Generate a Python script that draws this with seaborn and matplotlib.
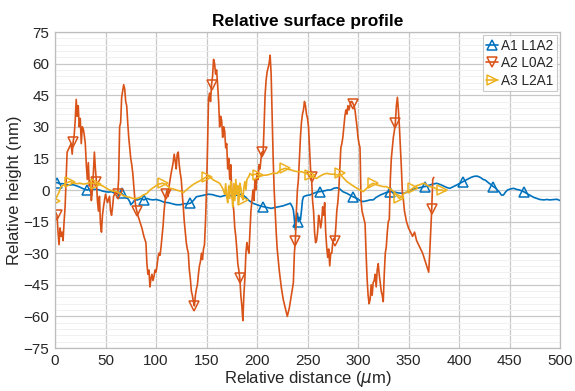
import numpy as np
import pandas as pd
import matplotlib
matplotlib.use("Agg")
import matplotlib.pyplot as plt
import seaborn as sns

# ---------------- data ----------------
a2_x = [0,2,3,4,5,6,7,8,9,10,11,12,14,16,17,18,19,20,21,22,23,24,25,26,27,28,29,30,31,32,33,34,35,36,37,38,39,40,41,42,43,44,45,46,47,48,49,50,52,54,55,56,57,58,60,62,63,64,65,66,67,68,69,70,71,72,73,74,75,76,77,78,79,80,81,82,84,86,88,90,91,92,93,94,95,96,97,98,99,100,101,102,103,104,105,106,107,108,109,110,111,112,113,115,117,118,119,120,121,122,123,124,125,126,127,128,129,130,131,132,133,134,135,136,137,138,139,140,141,142,143,144,145,146,147,148,149,150,151,152,153,154,155,156,157,158,159,160,161,162,163,164,165,166,167,168,169,170,171,172,173,174,175,176,177,178,179,180,181,182,183,184,185,186,187,188,189,190,191,192,193,194,195,196,197,198,199,200,201,202,203,204,205,206,207,208,209,210,211,212,213,214,215,216,217,218,219,220,222,224,226,228,230,232,234,236,237,238,239,240,241,242,243,244,245,246,247,248,249,250,251,252,253,254,255,256,257,258,259,260,261,262,263,264,265,266,267,268,269,270,271,272,273,274,275,276,277,278,279,280,281,282,283,284,285,286,287,288,289,290,291,292,293,294,295,296,297,298,299,300,301,302,303,304,305,306,307,308,309,310,311,312,313,314,315,316,317,318,319,320,321,322,323,324,325,326,327,328,329,330,331,332,333,334,335,336,337,338,339,340,341,342,343,344,345,346,348,350,352,354,356,358,360,362,364,366,368,370,371,372,373,374,375]
a2_y = [-10,-12,-20,-26,-18,-22,-20,-24,-15,-8,5,18,20,22,17,23,26,33,43,35,40,30,34,22,30,29,26,22,12,5,13,2,4,-5,0,8,18,10,4,-5,-10,-3,-16,-20,-12,-8,-5,-2,-6,-3,-10,-12,-8,-3,-1,-2,5,30,32,44,47,50,48,42,40,32,25,20,15,12,8,2,-4,-8,-10,-12,-15,-18,-22,-25,-35,-40,-38,-46,-42,-40,-43,-41,-38,-39,-36,-32,-30,-31,-27,-22,-17,-10,-5,-2,0,-3,2,8,13,17,14,10,17,18,12,8,5,-2,-8,-15,-20,-25,-28,-30,-38,-42,-48,-50,-53,-55,-50,-47,-45,-40,-36,-34,-30,-33,-28,-26,-15,0,20,43,46,42,50,54,62,60,55,57,50,42,30,35,33,25,30,28,20,22,10,15,5,12,0,-5,-10,-18,-22,-28,-35,-38,-42,-50,-55,-62,-50,-42,-30,-25,-28,-30,-20,-10,-5,0,-5,5,0,8,5,12,10,15,18,17,30,45,52,56,58,60,64,55,35,15,0,-10,-20,-28,-38,-46,-52,-56,-60,-56,-50,-44,-30,-24,-10,0,5,15,25,32,36,38,42,40,36,34,30,20,10,6,-5,-10,-20,-25,-24,-20,-12,-14,-18,-15,-8,-12,-6,-20,-27,-32,-28,-36,-30,-30,-25,-23,-24,-18,-10,-6,0,10,20,22,25,30,35,38,36,40,38,40,42,42,41,40,38,34,30,25,22,20,-5,-10,-12,-14,-16,-30,-42,-50,-54,-52,-45,-50,-44,-43,-40,-46,-38,-35,-40,-44,-48,-50,-53,-40,-30,-27,-20,-15,-14,5,15,20,25,28,32,40,44,38,30,20,10,-2,-5,-10,-15,-18,-20,-22,-20,-24,-26,-28,-30,-33,-36,-39,-30,-20,-9,5,6]
a2_marks = [2, 18, 41, 62, 81, 110, 138, 155, 183, 205, 238, 254, 277, 295, 337, 373]

a1_x = [0,2,5,8,11,15,18,21,24,27,30,32,35,38,41,44,47,50,53,56,59,62,66,69,72,74,75,77,79,82,85,88,91,94,97,100,104,108,112,116,120,124,128,131,134,137,140,144,148,152,156,160,164,168,172,176,180,184,186,189,192,196,200,203,206,210,214,218,222,226,230,233,235,236,237,238,239,240,241,242,243,244,245,246,249,252,256,259,262,266,270,273,276,279,282,285,289,292,295,299,302,305,308,312,315,318,322,326,329,332,336,340,345,349,353,358,362,366,370,374,378,382,386,389,391,394,397,401,404,408,412,415,418,421,424,426,429,432,434,436,438,440,442,444,446,448,451,454,457,460,464,467,470,474,477,480,484,487,490,494,497,500]
a1_y = [3.5,3.5,3,3,2.5,2.4,2.5,2,1.5,0.8,0.2,0,0.5,0.3,0.3,0,-0.5,-0.8,-1,-0.8,-1.5,-1,-1.6,-3,-4,-5.5,-7,-6,-4.7,-4.7,-4,-4.7,-4,-4.5,-4.7,-4.5,-5,-5.8,-6,-6.5,-7,-7,-6.5,-6.5,-6.3,-5,-3.2,-2.8,-2.4,-2,-2.2,-2.8,-3.2,-2.6,-2.4,-3,-2.4,-2,-2.4,-3.5,-5,-6.3,-7,-7.5,-7.9,-8.3,-8.7,-8.3,-7.9,-7.5,-6.8,-6.3,-8,-9.5,-14,-19,-12,-11,-15,-13,-14.2,-10,-5,-3.2,-2.6,-2.4,-1.6,-1,-0.8,-0.5,0,0,0.8,1.1,0.5,-0.8,-1.6,-2.4,-3.2,-4,-5,-5.5,-5.2,-4.7,-4.7,-3.5,-2.4,-1.6,-1,-0.8,-1,-1.4,-1.6,-1,0,0.8,1.2,1.6,2.2,2.8,3.2,2.5,1.6,1,0.8,1.5,2.2,3.2,4,5,6,6.5,6.6,6,5,4.7,3.5,2.4,1.6,1,0,-1,-2.4,-2.4,-1,0,0.5,0.8,0.3,0,-0.8,-1.6,-2.4,-3.5,-4,-4.5,-4.7,-4.5,-4.7,-4.5,-4.4,-5]
a1_marks = [2, 32, 66, 88, 134, 206, 241, 262, 295, 332, 366, 404, 434, 464]

a3_x = [0,2,4,6,9,12,15,18,21,25,28,31,34,38,41,44,47,51,54,57,61,64,67,71,74,77,81,84,87,91,94,97,101,104,107,110,114,117,120,124,127,130,134,138,142,146,150,153,157,160,163,166,168,169,170,171,172,173,174,175,176,177,178,179,180,181,182,183,184,185,186,187,188,189,190,192,193,195,198,201,204,207,210,213,216,220,223,226,228,231,234,237,240,244,248,252,256,259,262,266,269,273,277,280,282,285,289,292,295,299,302,305,308,312,315,318,322,325,328,332,336,339,341,343,346,350,354,358,361,364,366,369,372,376,379,383,386,388]
a3_y = [-5,-3,-1,1.6,2.5,3.5,4,3.5,3,3.2,2.8,3,3.5,3.2,3,2.5,2,0.8,0,-0.5,-0.8,-1.5,-2.5,-3.2,-3.5,-4,-4,-3.5,-2.5,-1.6,0,1,2.4,3,3.2,2.5,0.8,0.5,0,-0.5,-1.3,0,1.6,3,4,5,6.3,6.3,4.7,4,3.2,0.8,-2,3,-3.2,-6,2,-4,4,-1,-8,3,-5,5,-2,2,-6,3.2,1,-3,-4.7,1,4,0,5,6.5,7.9,7,7.5,7.1,6.8,7,7.1,7.5,8,7.9,9.5,10,10.3,9.8,9.5,9,8.7,8.7,8,7.1,6,5.5,6.5,7.5,7.9,7.5,7.5,7.1,7.9,6,4,3,2,0.8,0,-0.8,0.5,2.4,3.2,2.5,2,1.6,1.6,0.5,-1,-3,-4,-3.2,-1.5,-0.5,0.8,2,2.5,3,3.2,2,1.5,1,0,0,-0.5,0]
a3_marks = [0, 15, 41, 107, 150, 186, 201, 228, 252, 282, 315, 342, 354, 383]

labels = ["A1 L1A2", "A2 L0A2", "A3 L2A1"]
colors = ["#0072BD", "#D95319", "#EDB120"]
markers = ["^", "v", ">"]
x_ticks = [0, 50, 100, 150, 200, 250, 300, 350, 400, 450, 500]
y_ticks = [-75, -60, -45, -30, -15, 0, 15, 30, 45, 60, 75]

# ---------------- plot ----------------
sns.set_style("white")
plt.rcParams['font.family'] = ['Liberation Sans', 'DejaVu Sans']
plt.rcParams['mathtext.fontset'] = 'dejavusans'

fig = plt.figure(figsize=(5.75, 3.91), dpi=100)
ax = fig.add_axes([55/575, 1 - 348/391, (560-55)/575, (348-32)/391])

series = [(a1_x, a1_y, a1_marks), (a2_x, a2_y, a2_marks), (a3_x, a3_y, a3_marks)]
for (xs, ys, mk), lab, col, m in zip(series, labels, colors, markers):
    df = pd.DataFrame({"x": xs, "y": ys})
    xa = np.asarray(xs, dtype=float)
    idx = sorted(set(int(np.argmin(np.abs(xa - v))) for v in mk))
    sns.lineplot(data=df, x="x", y="y", ax=ax, color=col, lw=1.2,
                 sort=False, estimator=None, label=lab,
                 marker=m, markevery=idx, markersize=6.5,
                 markerfacecolor="none", markeredgecolor=col, markeredgewidth=1.1)

ax.set_xlim(0, 500)
ax.set_ylim(-75, 75)
ax.set_xticks(x_ticks)
ax.set_yticks(y_ticks)
ax.set_yticks(np.arange(-75, 76, 3), minor=True)
ax.grid(True, which="major", color="#c8c8c8", lw=0.9)
ax.grid(True, which="minor", axis="y", color="#f0f0f0", lw=0.7)
ax.set_axisbelow(True)
for s in ax.spines.values():
    s.set_color("#bdbdbd")
    s.set_linewidth(0.9)
ax.tick_params(axis="both", which="both", length=0, labelsize=11,
               labelcolor="#262626", pad=4)

ax.set_title("Relative surface profile", fontsize=12.5, fontweight="bold",
             color="black", pad=4)
ax.set_xlabel(r"Relative distance ($\mu$m)", fontsize=12, color="#262626", labelpad=1)
ax.set_ylabel("Relative height (nm)", fontsize=12, color="#262626", labelpad=1)

leg = ax.legend(loc="upper right", fontsize=9.8, frameon=True, fancybox=False,
                handlelength=0.9, handletextpad=0.2, borderpad=0.25,
                labelspacing=0.25, borderaxespad=0.25)
leg.get_frame().set_edgecolor("#bdbdbd")
leg.get_frame().set_linewidth(0.8)
for t in leg.get_texts():
    t.set_color("#262626")

fig.savefig("out.png", dpi=100)
